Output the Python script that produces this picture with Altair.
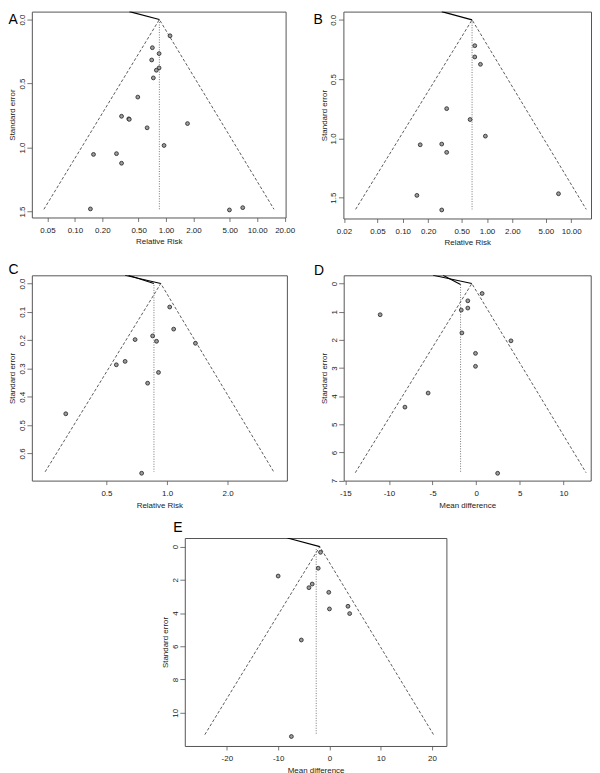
import altair as alt
import pandas as pd

FONT = "Liberation Sans"

# ---------------- data ----------------
# Panel A (relative risk, log scale)
A_rr = [1.106, 0.708, 0.839, 0.696, 0.839, 0.783, 0.726, 0.490, 0.325, 0.390, 0.395,
        0.620, 1.72, 0.951, 0.160, 0.286, 0.325, 0.148, 4.96, 6.94]
A_se = [0.127, 0.220, 0.266, 0.316, 0.378, 0.396, 0.456, 0.606, 0.756, 0.776, 0.780,
        0.846, 0.813, 0.984, 1.054, 1.048, 1.123, 1.480, 1.488, 1.470]
A_funnel_x = [0.0457, 0.845, 15.3]
A_funnel_se = [1.483, 0.0, 1.483]
A_ref_x = [0.845, 0.845]
A_ref_se = [0.0, 1.483]
A_reg_x = [0.397, 0.845]
A_reg_se = [-0.062, 0.0]

# Panel B
B_rr = [0.716, 0.716, 0.836, 0.332, 0.630, 0.957, 0.161, 0.290, 0.332, 0.147, 0.290, 7.07]
B_se = [0.218, 0.313, 0.375, 0.749, 0.841, 0.981, 1.054, 1.048, 1.118, 1.481, 1.604, 1.467]
B_funnel_x = [0.0275, 0.665, 15.1]
B_funnel_se = [1.599, 0.0, 1.599]
B_ref_x = [0.665, 0.665]
B_ref_se = [0.0, 1.599]
B_reg_x = [0.290, 0.665]
B_reg_se = [-0.0696, 0.0]

# Panel C
C_rr = [1.031, 1.079, 0.848, 0.887, 0.694, 1.384, 0.619, 0.560, 0.907, 0.801, 0.314, 0.748]
C_se = [0.083, 0.161, 0.185, 0.204, 0.198, 0.211, 0.275, 0.287, 0.314, 0.352, 0.460, 0.670]
C_funnel_x = [0.248, 0.931, 3.39]
C_funnel_se = [0.665, 0.0, 0.665]
C_ref_x = [0.861, 0.861]
C_ref_se = [0.005, 0.665]
C_reg1_x = [0.619, 0.931]
C_reg1_se = [-0.029, 0.0]
C_reg2_x = [0.643, 0.861]
C_reg2_se = [-0.029, 0.0]

# Panel D (mean difference)
D_md = [0.68, -0.96, -0.96, -1.71, -11.01, -1.64, 3.99, -0.08, -0.08, -5.51, -8.17, 2.46]
D_se = [0.353, 0.613, 0.871, 0.942, 1.107, 1.753, 2.035, 2.48, 2.94, 3.89, 4.39, 6.74]
D_funnel_x = [-13.86, -0.5, 12.6]
D_funnel_se = [6.72, 0.0, 6.72]
D_ref_x = [-1.79, -1.79]
D_ref_se = [0.035, 6.72]
D_reg1_x = [-4.94, -0.5]
D_reg1_se = [-0.293, 0.0]
D_reg2_x = [-3.80, -1.79]
D_reg2_se = [-0.293, 0.035]

# Panel E
E_md = [-1.74, -2.19, -10.0, -3.36, -4.0, -0.13, 3.61, 0.0, 3.94, -5.48, -7.42]
E_se = [0.34, 1.30, 1.77, 2.25, 2.47, 2.75, 3.59, 3.75, 4.03, 5.62, 11.43]
E_funnel_x = [-24.3, -1.88, 20.3]
E_funnel_se = [11.32, 0.0, 11.32]
E_ref_x = [-2.58, -2.58]
E_ref_se = [0.14, 11.32]
E_reg_x = [-8.19, -1.88]
E_reg_se = [-0.52, 0.0]

RR_TICKS_A = [0.05, 0.1, 0.2, 0.5, 1, 2, 5, 10, 20]
RR_TICKS_B = [0.02, 0.05, 0.1, 0.2, 0.5, 1, 2, 5, 10]
RR_TICKS_C = [0.5, 1, 2]
MD_TICKS_D = [-15, -10, -5, 0, 5, 10]
MD_TICKS_E = [-20, -10, 0, 10, 20]
SE_TICKS_AB = [0, 0.5, 1.0, 1.5]
SE_TICKS_C = [0, 0.1, 0.2, 0.3, 0.4, 0.5, 0.6]
SE_TICKS_D = [0, 1, 2, 3, 4, 5, 6, 7]
SE_TICKS_E = [0, 2, 4, 6, 8, 10]


def panel(letter, lx, ly, xs, ses, fx, fse, rx, rse, regs,
          xscale, xaxis, ydomain, yticks, ylabel_expr, width, height):
    X = lambda: alt.X("x:Q", scale=xscale, axis=xaxis)
    Y = lambda: alt.Y("se:Q",
                      scale=alt.Scale(domain=ydomain, reverse=True, nice=False, zero=False),
                      axis=alt.Axis(values=yticks, labelExpr=ylabel_expr, title="Standard error",
                                    labelAngle=270, labelAlign="center", labelBaseline="bottom",
                                    tickSize=5, labelPadding=0.5, titlePadding=2,
                                    labelOverlap=False, labelFlush=False))
    funnel = alt.Chart(pd.DataFrame({"x": fx, "se": fse, "o": list(range(len(fx)))})).mark_line(
        color="#333333", strokeWidth=0.8, strokeDash=[3, 2]).encode(x=X(), y=Y(), order="o:Q")
    ref = alt.Chart(pd.DataFrame({"x": rx, "se": rse, "o": [0, 1]})).mark_line(
        color="#555555", strokeWidth=0.8, strokeDash=[1, 1.5]).encode(x=X(), y=Y(), order="o:Q")
    layers = [funnel, ref]
    for gx, gse in regs:
        layers.append(alt.Chart(pd.DataFrame({"x": gx, "se": gse, "o": [0, 1]})).mark_line(
            color="black", strokeWidth=1.1, clip=True).encode(x=X(), y=Y(), order="o:Q"))
    pts = alt.Chart(pd.DataFrame({"x": xs, "se": ses})).mark_point(
        filled=True, fill="#9c9c9c", stroke="#222222", strokeWidth=0.8, size=15,
        opacity=1).encode(x=X(), y=Y())
    layers.append(pts)
    lab = alt.Chart(pd.DataFrame({"t": [letter]})).mark_text(
        align="left", baseline="alphabetic", fontSize=14, font=FONT, color="black").encode(
        x=alt.value(lx), y=alt.value(ly), text="t:N")
    layers.append(lab)
    return alt.layer(*layers).properties(width=width, height=height)


def xaxis(values, title, expr):
    return alt.Axis(values=values, title=title, labelExpr=expr, tickSize=4, labelPadding=5,
                    titlePadding=3.6, labelOverlap=False, labelFlush=False)


pA = panel("A", -23.5, 12, A_rr, A_se, A_funnel_x, A_funnel_se, A_ref_x, A_ref_se,
           [(A_reg_x, A_reg_se)],
           alt.Scale(type="log", domain=[0.0337, 20.5], nice=False),
           xaxis(RR_TICKS_A, "Relative Risk", "format(datum.value, '.2f')"),
           [-0.062, 1.547], SE_TICKS_AB, "format(datum.value, '.1f')", 255.5, 207.3)

pB = panel("B", -30, 12, B_rr, B_se, B_funnel_x, B_funnel_se, B_ref_x, B_ref_se,
           [(B_reg_x, B_reg_se)],
           alt.Scale(type="log", domain=[0.0197, 17.2], nice=False),
           xaxis(RR_TICKS_B, "Relative Risk", "format(datum.value, '.2f')"),
           [-0.0696, 1.676], SE_TICKS_AB, "format(datum.value, '.1f')", 249.3, 208.3)

pC = panel("C", -23.5, -1, C_rr, C_se, C_funnel_x, C_funnel_se, C_ref_x, C_ref_se,
           [(C_reg1_x, C_reg1_se), (C_reg2_x, C_reg2_se)],
           alt.Scale(type="log", domain=[0.213, 3.94], nice=False),
           xaxis(RR_TICKS_C, "Relative Risk", "format(datum.value, '.1f')"),
           [-0.029, 0.696], SE_TICKS_C, "format(datum.value, '.1f')", 256.8, 206.7)

pD = panel("D", -30, -0.5, D_md, D_se, D_funnel_x, D_funnel_se, D_ref_x, D_ref_se,
           [(D_reg1_x, D_reg1_se), (D_reg2_x, D_reg2_se)],
           alt.Scale(domain=[-15.19, 13.13], nice=False, zero=False),
           xaxis(MD_TICKS_D, "Mean difference", "'' + datum.value"),
           [-0.293, 7.0], SE_TICKS_D, "'' + datum.value", 248.7, 206.7)

pE = panel("E", -11.6, -5.6, E_md, E_se, E_funnel_x, E_funnel_se, E_ref_x, E_ref_se,
           [(E_reg_x, E_reg_se)],
           alt.Scale(domain=[-28.2, 22.8], nice=False, zero=False),
           xaxis(MD_TICKS_E, "Mean difference", "'' + datum.value"),
           [-0.52, 12.0], SE_TICKS_E, "'' + datum.value", 263.4, 209.4)

spacer = alt.Chart(pd.DataFrame({"v": [0]})).mark_point(opacity=0, size=1).encode(
    x=alt.value(1), y=alt.value(1)).properties(
    width=124.8, height=10, view=alt.ViewBackground(strokeOpacity=0, strokeWidth=0))

row1 = alt.hconcat(pA, pB, spacing=16.7)
row2 = alt.hconcat(pC, pD, spacing=25)
row3 = alt.hconcat(spacer, pE, spacing=5)

top = alt.vconcat(row1, row2, spacing=14.5)

chart = alt.vconcat(top, row3, spacing=10).properties(
    padding=0, background="white"
).configure_view(
    stroke="#555555", strokeWidth=1
).configure_axis(
    grid=False, domain=False, labelFont=FONT, titleFont=FONT, labelFontSize=8,
    titleFontSize=8, labelColor="#222222", titleColor="#222222", tickColor="#555555",
    tickWidth=0.8, titleFontWeight="normal"
)

chart.save("out.html", embed_options={"renderer": "svg", "actions": False})
